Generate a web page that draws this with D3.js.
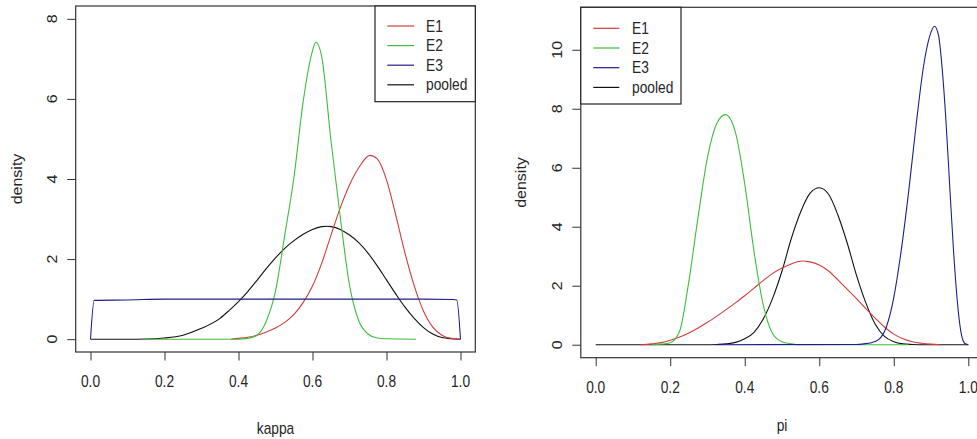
<!DOCTYPE html>
<html><head><meta charset="utf-8">
<script src="https://cdn.jsdelivr.net/npm/d3@7"></script>
<style>html,body{margin:0;padding:0;background:#fff;}svg{display:block;}</style>
</head><body>
<svg id="c" width="977" height="439"></svg>
<script>
// ---------- data ----------
const seriesNames = ["E1", "E2", "E3", "pooled"];
const xTicks = [0, 0.2, 0.4, 0.6, 0.8, 1.0];
const yTicksKappa = [0, 2, 4, 6, 8];
const yTicksPi = [0, 2, 4, 6, 8, 10];

// kappa panel: [x, density]
const kappaE1 = [[0.38,0],[0.4,0.02],[0.425,0.05],[0.45,0.1],[0.475,0.18],[0.5,0.28],[0.525,0.42],[0.55,0.62],[0.575,0.92],[0.6,1.33],[0.625,1.9],[0.65,2.6],[0.675,3.28],[0.7,3.85],[0.725,4.28],[0.755,4.59],[0.775,4.5],[0.8,3.98],[0.825,3.1],[0.85,2.15],[0.875,1.33],[0.9,0.7],[0.925,0.3],[0.95,0.1],[0.975,0.02],[1.0,0]];
const kappaE2 = [[0.15,0],[0.4,0],[0.425,0.02],[0.45,0.1],[0.475,0.45],[0.5,1.2],[0.525,2.6],[0.55,4.05],[0.575,5.95],[0.6,7.2],[0.609,7.42],[0.625,7.05],[0.65,4.95],[0.675,3.05],[0.7,1.35],[0.725,0.46],[0.75,0.13],[0.775,0.03],[0.8,0.01],[0.88,0]];
const kappaE3 = [[0,0],[0.01,0.97],[0.1,0.98],[0.2,1.0],[0.5,1.0],[0.9,1.0],[0.98,0.99],[0.99,0.98],[1.0,0]];
const kappaPooled = [[0,0],[0.1,0],[0.15,0.005],[0.2,0.03],[0.25,0.1],[0.3,0.27],[0.35,0.52],[0.375,0.72],[0.4,0.94],[0.425,1.19],[0.45,1.47],[0.475,1.76],[0.5,2.03],[0.525,2.27],[0.55,2.46],[0.575,2.62],[0.6,2.74],[0.625,2.81],[0.64,2.82],[0.65,2.81],[0.675,2.74],[0.7,2.6],[0.725,2.41],[0.75,2.15],[0.775,1.83],[0.8,1.48],[0.825,1.13],[0.85,0.8],[0.875,0.52],[0.9,0.29],[0.925,0.13],[0.95,0.04],[0.975,0.01],[1.0,0]];

// pi panel: [x, density]
const piE1 = [[0.12,0],[0.15,0.03],[0.175,0.07],[0.2,0.15],[0.225,0.26],[0.25,0.4],[0.275,0.57],[0.3,0.76],[0.325,0.97],[0.35,1.19],[0.375,1.42],[0.4,1.66],[0.425,1.92],[0.45,2.18],[0.475,2.42],[0.5,2.6],[0.525,2.74],[0.555,2.84],[0.575,2.81],[0.6,2.7],[0.625,2.5],[0.65,2.2],[0.675,1.88],[0.7,1.56],[0.725,1.22],[0.75,0.9],[0.775,0.6],[0.8,0.36],[0.825,0.2],[0.85,0.1],[0.875,0.05],[0.9,0.02],[0.925,0]];
const piE2 = [[0.15,0],[0.175,0.02],[0.2,0.07],[0.225,0.45],[0.25,2.15],[0.275,4.35],[0.3,6.35],[0.325,7.5],[0.348,7.8],[0.375,7.2],[0.4,5.45],[0.425,3.15],[0.45,1.33],[0.475,0.37],[0.5,0.1],[0.525,0.03],[0.55,0],[0.84,0]];
const piE3 = [[0.32,0],[0.7,0.01],[0.72,0.03],[0.74,0.07],[0.76,0.18],[0.78,0.6],[0.8,1.6],[0.82,3.2],[0.84,5.2],[0.86,7.45],[0.88,9.45],[0.9,10.6],[0.909,10.8],[0.92,10.5],[0.93,9.35],[0.94,7.6],[0.95,5.4],[0.96,3.26],[0.97,1.55],[0.98,0.45],[0.99,0.05],[1.0,0]];
const piPooled = [[0,0],[0.3,0],[0.325,0.01],[0.35,0.03],[0.375,0.08],[0.4,0.2],[0.425,0.42],[0.45,0.88],[0.475,1.58],[0.5,2.5],[0.525,3.6],[0.55,4.5],[0.575,5.13],[0.6,5.32],[0.625,5.1],[0.65,4.4],[0.675,3.45],[0.7,2.35],[0.725,1.42],[0.75,0.7],[0.775,0.28],[0.8,0.1],[0.825,0.03],[0.85,0.01],[0.875,0],[1.0,0]];

// ---------- drawing ----------
const colors = {E1:"#d03c3c", E2:"#3cbf3c", E3:"#1e1e8c", pooled:"#111111"};
const svg = d3.select("#c");
const FONT = "'Liberation Sans', Arial, sans-serif";
const SX = 0.86, FS = 16, TXT = "#262626";

function label(x, y, s, rot, anchor) {
  svg.append("text")
    .attr("transform", `translate(${x},${y}) scale(${SX},1)` + (rot ? " rotate(-90)" : ""))
    .attr("text-anchor", anchor || "middle")
    .attr("font-family", FONT).attr("font-size", FS).attr("fill", TXT)
    .text(s);
}

function panel(cfg) {
  const x = d3.scaleLinear().domain([-0.04, 1.04]).range([cfg.left, cfg.right]);
  const y = d3.scaleLinear().domain([-0.04 * cfg.ymax, 1.04 * cfg.ymax]).range([cfg.bottom, cfg.top]);
  const g = svg.append("g");
  const clipId = "clip" + cfg.id;
  svg.append("clipPath").attr("id", clipId).append("rect")
    .attr("x", cfg.left).attr("y", cfg.top).attr("width", cfg.right - cfg.left).attr("height", cfg.bottom - cfg.top);

  const line = d3.line().x(d => x(d[0])).y(d => y(d[1])).curve(d3.curveMonotoneX);
  const order = ["pooled", "E1", "E2", "E3"];
  order.forEach(k => {
    g.append("path").datum(cfg.series[k]).attr("d", line)
      .attr("fill", "none").attr("stroke", colors[k]).attr("stroke-width", 1.1)
      .attr("clip-path", `url(#${clipId})`);
  });

  // axes ticks
  const ax = d3.axisBottom(x).tickValues(xTicks).tickSize(8.5).tickFormat("");
  const axg = svg.append("g").attr("transform", `translate(0,${cfg.bottom})`).call(ax);
  axg.select(".domain").remove();
  axg.selectAll("line").attr("stroke", "#333");
  const ay = d3.axisLeft(y).tickValues(cfg.yTicks).tickSize(8.5).tickFormat("");
  const ayg = svg.append("g").attr("transform", `translate(${cfg.left},0)`).call(ay);
  ayg.select(".domain").remove();
  ayg.selectAll("line").attr("stroke", "#333");

  // tick labels
  xTicks.forEach(v => label(x(v), cfg.xLabY, d3.format(".1f")(v)));
  cfg.yTicks.forEach(v => label(cfg.yLabX, y(v), String(v), true));
  label((cfg.left + cfg.right) / 2, cfg.titleY, cfg.xTitle);
  label(cfg.densX, (cfg.top + cfg.bottom) / 2, "density", true);

  // box
  svg.append("rect").attr("x", cfg.left).attr("y", cfg.top)
    .attr("width", cfg.right - cfg.left).attr("height", cfg.bottom - cfg.top)
    .attr("fill", "none").attr("stroke", "#333").attr("stroke-width", 1.2);

  // legend
  const L = cfg.legend;
  svg.append("rect").attr("x", L.x0).attr("y", L.y0).attr("width", L.x1 - L.x0).attr("height", L.y1 - L.y0)
    .attr("fill", "#fff").attr("stroke", "#222").attr("stroke-width", 1.2);
  seriesNames.forEach((k, i) => {
    const yy = L.firstY + i * L.step;
    svg.append("line").attr("x1", L.lx0).attr("x2", L.lx1).attr("y1", yy).attr("y2", yy)
      .attr("stroke", colors[k]).attr("stroke-width", 1.2);
    label(L.tx, yy + 5.6, k, false, "start");
  });
}

panel({
  id: "k", left: 75.7, right: 475.3, top: 6, bottom: 352, ymax: 8,
  yTicks: yTicksKappa, xTitle: "kappa",
  series: {E1: kappaE1, E2: kappaE2, E3: kappaE3, pooled: kappaPooled},
  xLabY: 387.3, yLabX: 56.5, titleY: 433.5, densX: 21.5,
  legend: {x0: 375, x1: 475.3, y0: 6, y1: 101.7, firstY: 26, step: 19.6, lx0: 387.3, lx1: 414, tx: 426}
});

panel({
  id: "p", left: 580.8, right: 983.2, top: 7.3, bottom: 357.7, ymax: 11,
  yTicks: yTicksPi, xTitle: "pi",
  series: {E1: piE1, E2: piE2, E3: piE3, pooled: piPooled},
  xLabY: 393.3, yLabX: 561.5, titleY: 430.5, densX: 525.5,
  legend: {x0: 580.8, x1: 681, y0: 7.3, y1: 104, firstY: 28.3, step: 19.7, lx0: 593.3, lx1: 619.3, tx: 632}
});
</script>
</body></html>
